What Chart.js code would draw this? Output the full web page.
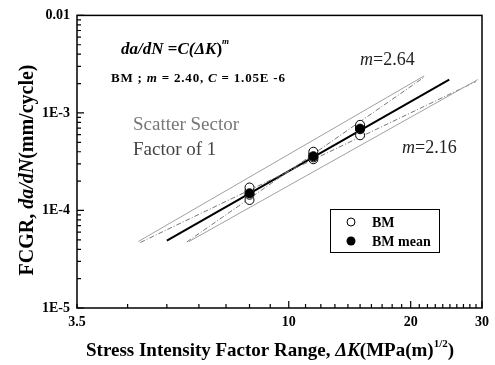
<!DOCTYPE html>
<html>
<head>
<meta charset="utf-8">
<script src="https://cdn.jsdelivr.net/npm/chart.js@4.4.1/dist/chart.umd.min.js"></script>
<style>
html,body{margin:0;padding:0;background:#fff;}
#wrap{width:495px;height:365px;position:relative;}
</style>
</head>
<body>
<div id="wrap"><canvas id="c" width="495" height="365"></canvas></div>
<script>
// ---- data ----
const deltaK = [8.0, 11.5, 15.0];
const bmRate8 = [1.28e-4, 1.45e-4, 1.58e-4, 1.72e-4];
const bmRate11 = [3.35e-4, 3.5e-4, 3.75e-4, 4.0e-4];
const bmRate15 = [5.9e-4, 6.8e-4, 7.2e-4, 7.55e-4];
const bmMean = [1.5e-4, 3.6e-4, 6.9e-4];
const fitK = [5.0, 24.9];
const fitRate = [4.9e-5, 2.2e-3];
const bandUpperK = [4.25, 21.6];
const bandUpperRate = [4.8e-5, 2.4e-3];
const bandLowerK = [5.67, 29.3];
const bandLowerRate = [4.8e-5, 2.2e-3];
const m264K = [5.6, 21.5];
const m264Rate = [4.75e-5, 2.3e-3];
const m216K = [4.3, 29.0];
const m216Rate = [4.7e-5, 2.1e-3];
const xTickValues = [3,4,5,6,7,8,9,10,11,12,13,14,15,16,17,18,19,20,21,22,23,24,25,26,27,28,29,30];
const xTickLabels = {3:'3.5', 10:'10', 20:'20', 30:'30'};
const yTickValues = [];
[1e-5,1e-4,1e-3].forEach(d=>{for(let i=1;i<10;i++) yTickValues.push(+(d*i).toPrecision(3));});
yTickValues.push(1e-2);
const yTickLabels = {'0.00001':'1E-5','0.0001':'1E-4','0.001':'1E-3','0.01':'0.01'};
const seriesNames = ['BM', 'BM mean'];

const SERIF = '"Liberation Serif", "Times New Roman", serif';
function pts(xs, ys){ return xs.map((x,i)=>({x:x, y:ys[i]})); }
function bmPoints(){
  const out=[];
  [bmRate8,bmRate11,bmRate15].forEach((arr,i)=>arr.forEach(v=>out.push({x:deltaK[i], y:v})));
  return out;
}
function isMajor(v){ const l=Math.log10(v); return Math.abs(l-Math.round(l))<1e-6; }

function setFont(ctx,r){
  ctx.font = (r.style||'') + ' ' + r.size + 'px ' + SERIF;
  ctx.letterSpacing = (r.ls||0) + 'px';
}
function drawRuns(ctx, runs, x, y){
  let cx = x;
  runs.forEach(r=>{
    setFont(ctx,r);
    ctx.fillStyle = r.color || '#000';
    ctx.fillText(r.t, cx, y + (r.dy||0));
    cx += ctx.measureText(r.t).width + (r.gap||0);
  });
  ctx.letterSpacing='0px';
  return cx - x;
}
function runsWidth(ctx, runs){
  let w=0;
  runs.forEach(r=>{ setFont(ctx,r); w+=ctx.measureText(r.t).width+(r.gap||0); });
  ctx.letterSpacing='0px';
  return w;
}

const decor = {
  id:'decor',
  afterDraw(chart){
    const ctx = chart.ctx, a = chart.chartArea;
    const xs = chart.scales.x, ys = chart.scales.y;
    ctx.save();
    ctx.textBaseline='alphabetic';
    ctx.textAlign='left';
    // frame
    ctx.strokeStyle='#000'; ctx.lineWidth=1.5;
    ctx.strokeRect(a.left, a.top, a.right-a.left, a.bottom-a.top);
    // inward ticks
    ctx.lineWidth=1.2;
    ctx.beginPath();
    yTickValues.forEach(v=>{
      const py = ys.getPixelForValue(v); const len = isMajor(v)?7:4;
      ctx.moveTo(a.left, py); ctx.lineTo(a.left+len, py);
    });
    xTickValues.forEach(v=>{
      const px = xs.getPixelForValue(v); const len = (v===10||v===20||v===30)?7:4;
      ctx.moveTo(px, a.bottom); ctx.lineTo(px, a.bottom-len);
    });
    ctx.stroke();

    // annotations
    drawRuns(ctx,[
      {t:'da/dN',style:'italic bold',size:17},
      {t:' =',style:'bold',size:17},
      {t:'C(',style:'italic bold',size:17},
      {t:'ΔK',style:'italic bold',size:17},
      {t:')',style:'bold',size:17},
      {t:'m',style:'italic bold',size:9,dy:-10}
    ],121,54);
    drawRuns(ctx,[
      {t:'BM ; ',style:'bold',size:13,ls:0.8},
      {t:'m',style:'italic bold',size:13,ls:0.8},
      {t:' = 2.40, ',style:'bold',size:13,ls:0.8},
      {t:'C',style:'italic bold',size:13,ls:0.8},
      {t:' = 1.05E -6',style:'bold',size:13,ls:0.8}
    ],111,82);
    drawRuns(ctx,[{t:'m',style:'italic',size:18,color:'#222'},{t:'=2.64',style:'',size:18,color:'#222'}],360,65);
    drawRuns(ctx,[{t:'m',style:'italic',size:18,color:'#222'},{t:'=2.16',style:'',size:18,color:'#222'}],402,153);
    drawRuns(ctx,[{t:'Scatter Sector',style:'',size:19,color:'#777'}],133,130);
    drawRuns(ctx,[{t:'Factor of 1',style:'',size:19,color:'#444'}],133,155);

    // legend
    const lx=330, ly=209, lw=109, lh=43;
    ctx.fillStyle='#fff'; ctx.fillRect(lx,ly,lw,lh);
    ctx.strokeStyle='#000'; ctx.lineWidth=1; ctx.strokeRect(lx+0.5,ly+0.5,lw,lh);
    ctx.beginPath(); ctx.arc(351,222,4,0,Math.PI*2); ctx.fillStyle='#fff'; ctx.fill(); ctx.lineWidth=1; ctx.strokeStyle='#000'; ctx.stroke();
    ctx.beginPath(); ctx.arc(351,241,4.5,0,Math.PI*2); ctx.fillStyle='#000'; ctx.fill();
    drawRuns(ctx,[{t:seriesNames[0],style:'bold',size:14}],372,227);
    drawRuns(ctx,[{t:seriesNames[1],style:'bold',size:14}],372,246);

    // axis titles
    const xr = [
      {t:'Stress Intensity Factor Range, ',style:'bold',size:19},
      {t:'ΔK',style:'italic bold',size:19},
      {t:'(MPa(m)',style:'bold',size:19},
      {t:'1/2',style:'bold',size:11,dy:-9},
      {t:')',style:'bold',size:19}
    ];
    drawRuns(ctx,xr,86,356);
    const yr = [
      {t:'FCGR, ',style:'bold',size:20},
      {t:'da/dN',style:'italic bold',size:20},
      {t:'(mm/cycle)',style:'bold',size:20}
    ];
    const w = runsWidth(ctx,yr);
    ctx.translate(33,170); ctx.rotate(-Math.PI/2);
    drawRuns(ctx,yr,-w/2,0);
    ctx.restore();
  }
};

const lineDs = (label, xs, ys, color, width, dash)=>({
  type:'line', label, data:pts(xs,ys), borderColor:color, borderWidth:width,
  borderDash:dash||[], pointRadius:0, fill:false, tension:0, showLine:true, order:5
});

new Chart(document.getElementById('c'),{
  type:'scatter',
  data:{datasets:[
    lineDs('band upper', bandUpperK, bandUpperRate, '#a0a0a0', 1),
    lineDs('band lower', bandLowerK, bandLowerRate, '#a0a0a0', 1),
    lineDs('m=2.64', m264K, m264Rate, '#777', 1, [5,2,1,2]),
    lineDs('m=2.16', m216K, m216Rate, '#777', 1, [5,2,1,2]),
    lineDs('fit', fitK, fitRate, '#000', 2),
    {label:seriesNames[0], data:bmPoints(), pointStyle:'circle', pointRadius:4.5,
     pointBackgroundColor:'#fff', pointBorderColor:'#000', pointBorderWidth:1, showLine:false, order:2},
    {label:seriesNames[1], data:pts(deltaK,bmMean), pointStyle:'circle', pointRadius:4.5,
     pointBackgroundColor:'#000', pointBorderColor:'#000', pointBorderWidth:1, showLine:false, order:1}
  ]},
  options:{
    responsive:false, animation:false, devicePixelRatio:1,
    layout:{padding:{top:9,right:13,left:0,bottom:0}},
    plugins:{legend:{display:false}, tooltip:{enabled:false}},
    scales:{
      x:{type:'logarithmic', min:3, max:30,
         afterBuildTicks:s=>{ s.ticks = xTickValues.map(v=>({value:v})); },
         afterFit:s=>{ s.height=57; },
         grid:{display:false, drawTicks:false}, border:{display:false},
         ticks:{autoSkip:false, maxRotation:0, padding:6, color:'#000',
           font:{family:SERIF, size:14, weight:'bold'},
           callback:(v)=> xTickLabels[v] || ''}},
      y:{type:'logarithmic', min:1e-5, max:1e-2,
         afterBuildTicks:s=>{ s.ticks = yTickValues.map(v=>({value:v})); },
         afterFit:s=>{ s.width=77; },
         grid:{display:false, drawTicks:false}, border:{display:false},
         ticks:{autoSkip:false, padding:7, color:'#000',
           font:{family:SERIF, size:14, weight:'bold'},
           callback:(v)=> yTickLabels[String(+v.toPrecision(3))] || ''}}
    }
  },
  plugins:[decor]
});
</script>
</body>
</html>
